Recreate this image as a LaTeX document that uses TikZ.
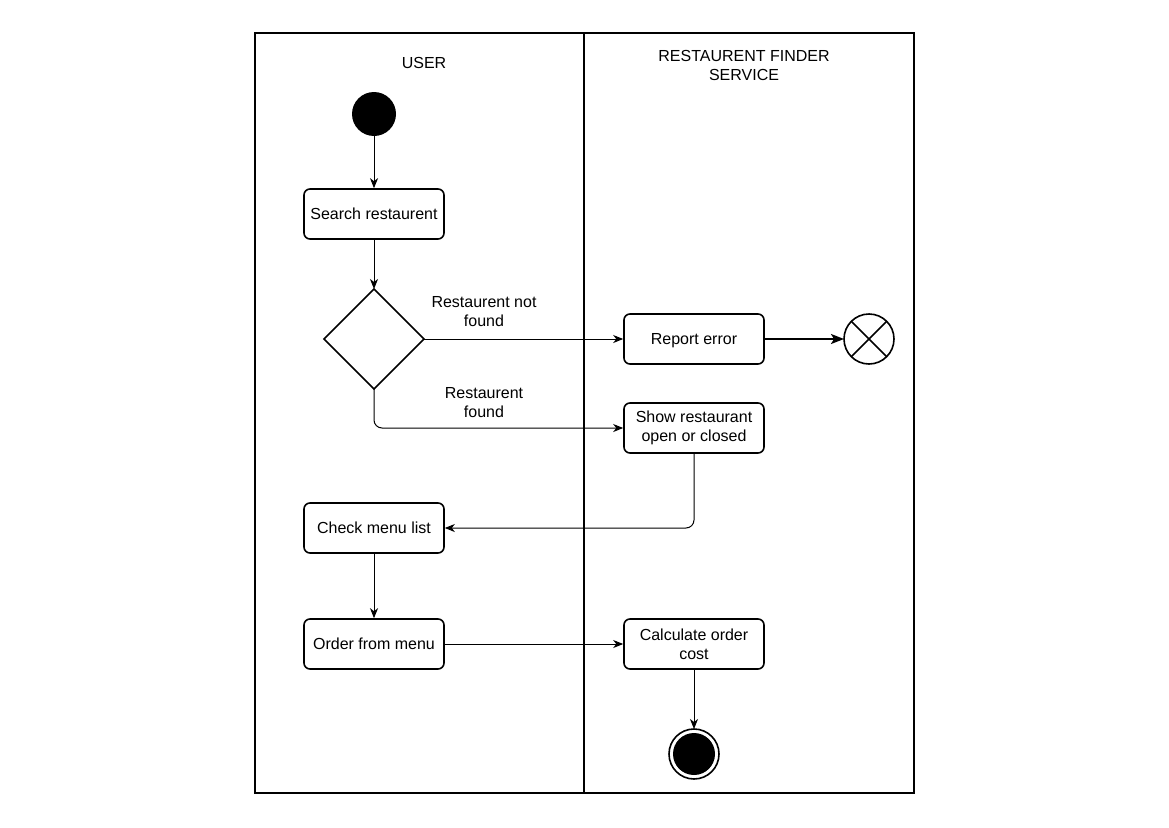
\documentclass[tikz,border=0pt]{standalone}
\usepackage{fontspec}
\setmainfont{Liberation Sans}
\usetikzlibrary{arrows.meta,positioning,calc}
\begin{document}
\begin{tikzpicture}[x=1pt,y=-1pt,
  every node/.style={font=\fontsize{16}{19}\selectfont, align=center, inner sep=0pt},
  oneline/.style={text height=14pt, text depth=2.5pt},
  twoline/.style={yshift=-1.5pt},
  lane/.style={draw, line width=2pt},
  action/.style={draw, line width=1.6pt, rounded corners=6pt, minimum width=140pt, minimum height=50pt},
  decision/.style={draw, line width=1.6pt},
  flow/.style={draw, line width=1pt, -{Stealth[length=10pt,width=8pt,inset=3pt]}, rounded corners=8pt},
  boldflow/.style={draw, line width=2pt, -{Stealth[length=13pt,width=10pt,inset=3pt]}},
]
\useasboundingbox (0,0) rectangle (1169,827);

% swimlanes
\draw[lane] (255,33) rectangle (914,793);
\draw[lane] (584,33) -- (584,793);
\node[oneline] (userlane) at (424,63) {USER};
\node[twoline] (servicelane) at (744,64) {RESTAURENT FINDER\\SERVICE};

% start
\fill (374,114) circle (22);
\coordinate (start) at (374,136);

% actions
\node[action, oneline] (search) at (374,214) {Search restaurent};
\draw[decision] (374,289) -- (424,339) -- (374,389) -- (324,339) -- cycle;
\coordinate (dtop) at (374,289);
\coordinate (dright) at (424,339);
\coordinate (dbottom) at (374,389);
\node[action, oneline] (report) at (694,339) {Report error};
\node[action] (show) at (694,428) {Show restaurant\\open or closed};
\node[action, oneline] (check) at (374,528) {Check menu list};
\node[action, oneline] (order) at (374,644) {Order from menu};
\node[action] (calc) at (694,644) {Calculate order\\cost};

% flow final (cross)
\draw[line width=1.6pt] (869,339) circle (25);
\draw[line width=1.6pt] ($(869,339)+(45:25)$) -- ($(869,339)+(225:25)$);
\draw[line width=1.6pt] ($(869,339)+(135:25)$) -- ($(869,339)+(315:25)$);
\coordinate (cross) at (844,339);

% final
\draw[line width=1.6pt] (694,754) circle (25);
\fill (694,754) circle (21);
\coordinate (final) at (694,729);

% edge labels
\node[twoline] (lblnot) at (484,310) {Restaurent not\\found};
\node[twoline] (lblfound) at (484,401) {Restaurent\\found};

% connectors
\draw[flow] (start) -- (search.north);
\draw[flow] (search.south) -- (dtop);
\draw[flow] (dright) -- (report.west);
\draw[boldflow] (report.east) -- (cross);
\draw[flow] (dbottom) |- (show.west);
\draw[flow] (show.south) |- (check.east);
\draw[flow] (check.south) -- (order.north);
\draw[flow] (order.east) -- (calc.west);
\draw[flow] (calc.south) -- (final);
\end{tikzpicture}
\end{document}
